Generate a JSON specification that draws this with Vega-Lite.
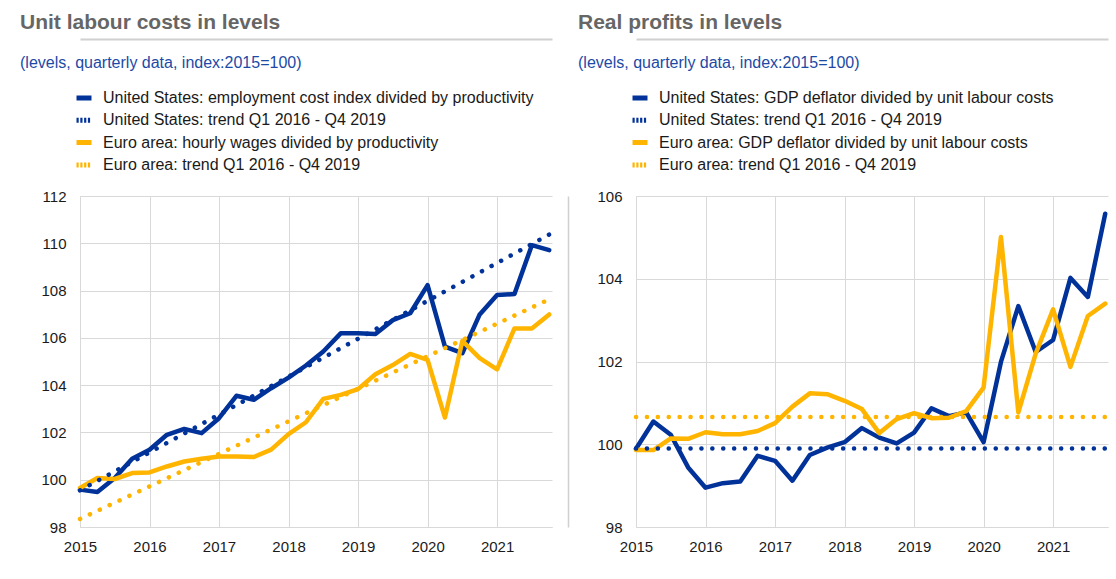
{
  "$schema": "https://vega.github.io/schema/vega-lite/v6.json",
  "background": "white",
  "padding": {"left": 20, "top": 12, "right": 0, "bottom": 0},
  "spacing": 84,
  "bounds": "flush",
  "resolve": {"scale": {"color": "independent", "x": "independent", "y": "independent"}, "legend": {"color": "independent"}},
  "config": {
    "font": "Liberation Sans",
    "view": {"stroke": null},
    "axis": {"labelFont": "Liberation Sans", "labelFontSize": 15, "labelColor": "#1a1a1a", "gridColor": "#d9d9d9", "gridWidth": 1, "domainColor": "#d9d9d9", "domainWidth": 1, "ticks": false, "tickSize": 0, "title": null, "labelFlush": false},
    "legend": {"orient": "none", "title": null, "symbolType": "stroke", "symbolSize": 225, "symbolStrokeWidth": 5, "labelFont": "Liberation Sans", "labelFontSize": 16, "labelColor": "#1a1a1a", "labelOffset": 9, "rowPadding": 2.3, "padding": 0, "labelLimit": 600},
    "title": {"font": "Liberation Sans", "fontSize": 21, "fontWeight": "bold", "color": "#666666", "anchor": "start", "frame": "group", "subtitleFont": "Liberation Sans", "subtitleFontSize": 16, "subtitleColor": "#1c4aa6", "subtitlePadding": 22, "offset": -32}
  },
  "hconcat": [
    {
      "width": 472,
      "height": 331,
      "title": {"text": "Unit labour costs in levels", "subtitle": "(levels, quarterly data, index:2015=100)", "dx": -60},
      "data": {"values": [
        {"s": "United States: employment cost index divided by productivity", "t": 2015.0, "v": 99.58},
        {"s": "United States: employment cost index divided by productivity", "t": 2015.25, "v": 99.48},
        {"s": "United States: employment cost index divided by productivity", "t": 2015.5, "v": 100.07},
        {"s": "United States: employment cost index divided by productivity", "t": 2015.75, "v": 100.89},
        {"s": "United States: employment cost index divided by productivity", "t": 2016.0, "v": 101.27},
        {"s": "United States: employment cost index divided by productivity", "t": 2016.25, "v": 101.9},
        {"s": "United States: employment cost index divided by productivity", "t": 2016.5, "v": 102.15},
        {"s": "United States: employment cost index divided by productivity", "t": 2016.75, "v": 101.97},
        {"s": "United States: employment cost index divided by productivity", "t": 2017.0, "v": 102.6},
        {"s": "United States: employment cost index divided by productivity", "t": 2017.25, "v": 103.55},
        {"s": "United States: employment cost index divided by productivity", "t": 2017.5, "v": 103.38},
        {"s": "United States: employment cost index divided by productivity", "t": 2017.75, "v": 103.87},
        {"s": "United States: employment cost index divided by productivity", "t": 2018.0, "v": 104.32},
        {"s": "United States: employment cost index divided by productivity", "t": 2018.25, "v": 104.83},
        {"s": "United States: employment cost index divided by productivity", "t": 2018.5, "v": 105.42},
        {"s": "United States: employment cost index divided by productivity", "t": 2018.75, "v": 106.19},
        {"s": "United States: employment cost index divided by productivity", "t": 2019.0, "v": 106.19},
        {"s": "United States: employment cost index divided by productivity", "t": 2019.25, "v": 106.16},
        {"s": "United States: employment cost index divided by productivity", "t": 2019.5, "v": 106.75},
        {"s": "United States: employment cost index divided by productivity", "t": 2019.75, "v": 107.04},
        {"s": "United States: employment cost index divided by productivity", "t": 2020.0, "v": 108.23},
        {"s": "United States: employment cost index divided by productivity", "t": 2020.25, "v": 105.63},
        {"s": "United States: employment cost index divided by productivity", "t": 2020.5, "v": 105.35},
        {"s": "United States: employment cost index divided by productivity", "t": 2020.75, "v": 106.99},
        {"s": "United States: employment cost index divided by productivity", "t": 2021.0, "v": 107.81},
        {"s": "United States: employment cost index divided by productivity", "t": 2021.25, "v": 107.85},
        {"s": "United States: employment cost index divided by productivity", "t": 2021.5, "v": 109.92},
        {"s": "United States: employment cost index divided by productivity", "t": 2021.75, "v": 109.71},
        {"s": "United States: trend Q1 2016 - Q4 2019", "t": 2015.0, "v": 99.55},
        {"s": "United States: trend Q1 2016 - Q4 2019", "t": 2021.75, "v": 110.37},
        {"s": "Euro area: hourly wages divided by productivity", "t": 2015.0, "v": 99.65},
        {"s": "Euro area: hourly wages divided by productivity", "t": 2015.25, "v": 100.07},
        {"s": "Euro area: hourly wages divided by productivity", "t": 2015.5, "v": 100.03},
        {"s": "Euro area: hourly wages divided by productivity", "t": 2015.75, "v": 100.28},
        {"s": "Euro area: hourly wages divided by productivity", "t": 2016.0, "v": 100.31},
        {"s": "Euro area: hourly wages divided by productivity", "t": 2016.25, "v": 100.56},
        {"s": "Euro area: hourly wages divided by productivity", "t": 2016.5, "v": 100.77},
        {"s": "Euro area: hourly wages divided by productivity", "t": 2016.75, "v": 100.89},
        {"s": "Euro area: hourly wages divided by productivity", "t": 2017.0, "v": 100.98},
        {"s": "Euro area: hourly wages divided by productivity", "t": 2017.25, "v": 100.98},
        {"s": "Euro area: hourly wages divided by productivity", "t": 2017.5, "v": 100.96},
        {"s": "Euro area: hourly wages divided by productivity", "t": 2017.75, "v": 101.27},
        {"s": "Euro area: hourly wages divided by productivity", "t": 2018.0, "v": 101.93},
        {"s": "Euro area: hourly wages divided by productivity", "t": 2018.25, "v": 102.43},
        {"s": "Euro area: hourly wages divided by productivity", "t": 2018.5, "v": 103.42},
        {"s": "Euro area: hourly wages divided by productivity", "t": 2018.75, "v": 103.59},
        {"s": "Euro area: hourly wages divided by productivity", "t": 2019.0, "v": 103.83},
        {"s": "Euro area: hourly wages divided by productivity", "t": 2019.25, "v": 104.46},
        {"s": "Euro area: hourly wages divided by productivity", "t": 2019.5, "v": 104.85},
        {"s": "Euro area: hourly wages divided by productivity", "t": 2019.75, "v": 105.32},
        {"s": "Euro area: hourly wages divided by productivity", "t": 2020.0, "v": 105.07},
        {"s": "Euro area: hourly wages divided by productivity", "t": 2020.25, "v": 102.63},
        {"s": "Euro area: hourly wages divided by productivity", "t": 2020.5, "v": 105.87},
        {"s": "Euro area: hourly wages divided by productivity", "t": 2020.75, "v": 105.14},
        {"s": "Euro area: hourly wages divided by productivity", "t": 2021.0, "v": 104.67},
        {"s": "Euro area: hourly wages divided by productivity", "t": 2021.25, "v": 106.4},
        {"s": "Euro area: hourly wages divided by productivity", "t": 2021.5, "v": 106.4},
        {"s": "Euro area: hourly wages divided by productivity", "t": 2021.75, "v": 106.99},
        {"s": "Euro area: trend Q1 2016 - Q4 2019", "t": 2015.0, "v": 98.34},
        {"s": "Euro area: trend Q1 2016 - Q4 2019", "t": 2021.75, "v": 107.63}
      ]},
      "resolve": {"axis": {"x": "independent", "y": "independent"}},
      "layer": [
        {
          "mark": {"type": "point", "opacity": 0},
          "encoding": {
            "x": {"field": "t", "type": "quantitative", "scale": {"domain": [2015, 2021.79], "nice": false, "zero": false}, "axis": {"orient": "top", "offset": 157, "labels": false, "grid": false, "domainColor": "#d0d0d0", "domainWidth": 2, "values": []}},
            "y": {"field": "v", "type": "quantitative", "scale": {"domain": [98, 112], "nice": false, "zero": false}, "axis": {"orient": "right", "offset": 16, "labels": false, "grid": false, "domainColor": "#d0d0d0", "domainWidth": 1.5, "values": []}}
          }
        },
        {
          "transform": [{"filter": "indexof(datum.s, 'trend') < 0"}],
          "mark": {"type": "line", "strokeWidth": 4.5, "strokeCap": "round", "strokeJoin": "round"},
          "encoding": {
            "x": {"field": "t", "type": "quantitative", "axis": {"orient": "bottom", "values": [2015, 2016, 2017, 2018, 2019, 2020, 2021], "format": "d", "grid": true, "labelPadding": 12}},
            "y": {"field": "v", "type": "quantitative", "axis": {"orient": "left", "values": [98, 100, 102, 104, 106, 108, 110, 112], "grid": true, "labelPadding": 14}},
            "color": {"field": "s", "type": "nominal", "sort": null,
              "scale": {"domain": ["United States: employment cost index divided by productivity", "United States: trend Q1 2016 - Q4 2019", "Euro area: hourly wages divided by productivity", "Euro area: trend Q1 2016 - Q4 2019"], "range": ["#003299", "#003299", "#ffb400", "#ffb400"]},
              "legend": {"legendX": -6, "legendY": -108, "encode": {"symbols": {"update": {"strokeDash": {"signal": "indexof(datum.label, 'trend') >= 0 ? [2.2, 1.6] : [1, 0]"}}}}}}
          }
        },
        {
          "transform": [{"filter": "indexof(datum.s, 'trend') >= 0"}],
          "mark": {"type": "line", "strokeWidth": 4.5, "strokeCap": "round", "strokeDash": [0.1, 10.8]},
          "encoding": {
            "x": {"field": "t", "type": "quantitative", "axis": null},
            "y": {"field": "v", "type": "quantitative", "axis": null},
            "color": {"field": "s", "type": "nominal", "sort": null,
              "scale": {"domain": ["United States: employment cost index divided by productivity", "United States: trend Q1 2016 - Q4 2019", "Euro area: hourly wages divided by productivity", "Euro area: trend Q1 2016 - Q4 2019"], "range": ["#003299", "#003299", "#ffb400", "#ffb400"]},
              "legend": {"legendX": -6, "legendY": -108, "encode": {"symbols": {"update": {"strokeDash": {"signal": "indexof(datum.label, 'trend') >= 0 ? [2.2, 1.6] : [1, 0]"}}}}}}
          }
        }
      ]
    },
    {
      "width": 472,
      "height": 331,
      "title": {"text": "Real profits in levels", "subtitle": "(levels, quarterly data, index:2015=100)", "dx": -58},
      "data": {"values": [
        {"s": "United States: GDP deflator divided by unit labour costs", "t": 2015.0, "v": 99.89},
        {"s": "United States: GDP deflator divided by unit labour costs", "t": 2015.25, "v": 100.55},
        {"s": "United States: GDP deflator divided by unit labour costs", "t": 2015.5, "v": 100.23},
        {"s": "United States: GDP deflator divided by unit labour costs", "t": 2015.75, "v": 99.44},
        {"s": "United States: GDP deflator divided by unit labour costs", "t": 2016.0, "v": 98.95},
        {"s": "United States: GDP deflator divided by unit labour costs", "t": 2016.25, "v": 99.06},
        {"s": "United States: GDP deflator divided by unit labour costs", "t": 2016.5, "v": 99.1},
        {"s": "United States: GDP deflator divided by unit labour costs", "t": 2016.75, "v": 99.72},
        {"s": "United States: GDP deflator divided by unit labour costs", "t": 2017.0, "v": 99.6},
        {"s": "United States: GDP deflator divided by unit labour costs", "t": 2017.25, "v": 99.12},
        {"s": "United States: GDP deflator divided by unit labour costs", "t": 2017.5, "v": 99.74},
        {"s": "United States: GDP deflator divided by unit labour costs", "t": 2017.75, "v": 99.92},
        {"s": "United States: GDP deflator divided by unit labour costs", "t": 2018.0, "v": 100.05},
        {"s": "United States: GDP deflator divided by unit labour costs", "t": 2018.25, "v": 100.39},
        {"s": "United States: GDP deflator divided by unit labour costs", "t": 2018.5, "v": 100.16},
        {"s": "United States: GDP deflator divided by unit labour costs", "t": 2018.75, "v": 100.02},
        {"s": "United States: GDP deflator divided by unit labour costs", "t": 2019.0, "v": 100.28},
        {"s": "United States: GDP deflator divided by unit labour costs", "t": 2019.25, "v": 100.87},
        {"s": "United States: GDP deflator divided by unit labour costs", "t": 2019.5, "v": 100.68},
        {"s": "United States: GDP deflator divided by unit labour costs", "t": 2019.75, "v": 100.77},
        {"s": "United States: GDP deflator divided by unit labour costs", "t": 2020.0, "v": 100.05},
        {"s": "United States: GDP deflator divided by unit labour costs", "t": 2020.25, "v": 101.99},
        {"s": "United States: GDP deflator divided by unit labour costs", "t": 2020.5, "v": 103.34},
        {"s": "United States: GDP deflator divided by unit labour costs", "t": 2020.75, "v": 102.23},
        {"s": "United States: GDP deflator divided by unit labour costs", "t": 2021.0, "v": 102.52},
        {"s": "United States: GDP deflator divided by unit labour costs", "t": 2021.25, "v": 104.02},
        {"s": "United States: GDP deflator divided by unit labour costs", "t": 2021.5, "v": 103.56},
        {"s": "United States: GDP deflator divided by unit labour costs", "t": 2021.75, "v": 105.57},
        {"s": "United States: trend Q1 2016 - Q4 2019", "t": 2015.0, "v": 99.9},
        {"s": "United States: trend Q1 2016 - Q4 2019", "t": 2021.75, "v": 99.9},
        {"s": "Euro area: GDP deflator divided by unit labour costs", "t": 2015.0, "v": 99.86},
        {"s": "Euro area: GDP deflator divided by unit labour costs", "t": 2015.25, "v": 99.86},
        {"s": "Euro area: GDP deflator divided by unit labour costs", "t": 2015.5, "v": 100.14},
        {"s": "Euro area: GDP deflator divided by unit labour costs", "t": 2015.75, "v": 100.13},
        {"s": "Euro area: GDP deflator divided by unit labour costs", "t": 2016.0, "v": 100.29},
        {"s": "Euro area: GDP deflator divided by unit labour costs", "t": 2016.25, "v": 100.24},
        {"s": "Euro area: GDP deflator divided by unit labour costs", "t": 2016.5, "v": 100.24},
        {"s": "Euro area: GDP deflator divided by unit labour costs", "t": 2016.75, "v": 100.32},
        {"s": "Euro area: GDP deflator divided by unit labour costs", "t": 2017.0, "v": 100.51},
        {"s": "Euro area: GDP deflator divided by unit labour costs", "t": 2017.25, "v": 100.91},
        {"s": "Euro area: GDP deflator divided by unit labour costs", "t": 2017.5, "v": 101.23},
        {"s": "Euro area: GDP deflator divided by unit labour costs", "t": 2017.75, "v": 101.21},
        {"s": "Euro area: GDP deflator divided by unit labour costs", "t": 2018.0, "v": 101.05},
        {"s": "Euro area: GDP deflator divided by unit labour costs", "t": 2018.25, "v": 100.85},
        {"s": "Euro area: GDP deflator divided by unit labour costs", "t": 2018.5, "v": 100.27},
        {"s": "Euro area: GDP deflator divided by unit labour costs", "t": 2018.75, "v": 100.61},
        {"s": "Euro area: GDP deflator divided by unit labour costs", "t": 2019.0, "v": 100.75},
        {"s": "Euro area: GDP deflator divided by unit labour costs", "t": 2019.25, "v": 100.63},
        {"s": "Euro area: GDP deflator divided by unit labour costs", "t": 2019.5, "v": 100.64},
        {"s": "Euro area: GDP deflator divided by unit labour costs", "t": 2019.75, "v": 100.8},
        {"s": "Euro area: GDP deflator divided by unit labour costs", "t": 2020.0, "v": 101.37},
        {"s": "Euro area: GDP deflator divided by unit labour costs", "t": 2020.25, "v": 105.01},
        {"s": "Euro area: GDP deflator divided by unit labour costs", "t": 2020.5, "v": 100.77},
        {"s": "Euro area: GDP deflator divided by unit labour costs", "t": 2020.75, "v": 102.19},
        {"s": "Euro area: GDP deflator divided by unit labour costs", "t": 2021.0, "v": 103.26},
        {"s": "Euro area: GDP deflator divided by unit labour costs", "t": 2021.25, "v": 101.87},
        {"s": "Euro area: GDP deflator divided by unit labour costs", "t": 2021.5, "v": 103.1},
        {"s": "Euro area: GDP deflator divided by unit labour costs", "t": 2021.75, "v": 103.4},
        {"s": "Euro area: trend Q1 2016 - Q4 2019", "t": 2015.0, "v": 100.66},
        {"s": "Euro area: trend Q1 2016 - Q4 2019", "t": 2021.75, "v": 100.66}
      ]},
      "resolve": {"axis": {"x": "independent"}},
      "layer": [
        {
          "mark": {"type": "point", "opacity": 0},
          "encoding": {
            "x": {"field": "t", "type": "quantitative", "scale": {"domain": [2015, 2021.79], "nice": false, "zero": false}, "axis": {"orient": "top", "offset": 157, "labels": false, "grid": false, "domainColor": "#d0d0d0", "domainWidth": 2, "values": []}},
            "y": {"field": "v", "type": "quantitative", "scale": {"domain": [98, 106], "nice": false, "zero": false}, "axis": {"orient": "left", "values": [98, 100, 102, 104, 106], "grid": true, "labelPadding": 14}}
          }
        },
        {
          "transform": [{"filter": "indexof(datum.s, 'trend') < 0"}],
          "mark": {"type": "line", "strokeWidth": 4.5, "strokeCap": "round", "strokeJoin": "round"},
          "encoding": {
            "x": {"field": "t", "type": "quantitative", "axis": {"orient": "bottom", "values": [2015, 2016, 2017, 2018, 2019, 2020, 2021], "format": "d", "grid": true, "labelPadding": 12}},
            "y": {"field": "v", "type": "quantitative"},
            "color": {"field": "s", "type": "nominal", "sort": null,
              "scale": {"domain": ["United States: GDP deflator divided by unit labour costs", "United States: trend Q1 2016 - Q4 2019", "Euro area: GDP deflator divided by unit labour costs", "Euro area: trend Q1 2016 - Q4 2019"], "range": ["#003299", "#003299", "#ffb400", "#ffb400"]},
              "legend": {"legendX": -6, "legendY": -108, "encode": {"symbols": {"update": {"strokeDash": {"signal": "indexof(datum.label, 'trend') >= 0 ? [2.2, 1.6] : [1, 0]"}}}}}}
          }
        },
        {
          "transform": [{"filter": "indexof(datum.s, 'trend') >= 0"}],
          "mark": {"type": "line", "strokeWidth": 4.5, "strokeCap": "round", "strokeDash": [0.1, 10.8]},
          "encoding": {
            "x": {"field": "t", "type": "quantitative", "axis": null},
            "y": {"field": "v", "type": "quantitative"},
            "color": {"field": "s", "type": "nominal", "sort": null,
              "scale": {"domain": ["United States: GDP deflator divided by unit labour costs", "United States: trend Q1 2016 - Q4 2019", "Euro area: GDP deflator divided by unit labour costs", "Euro area: trend Q1 2016 - Q4 2019"], "range": ["#003299", "#003299", "#ffb400", "#ffb400"]},
              "legend": {"legendX": -6, "legendY": -108, "encode": {"symbols": {"update": {"strokeDash": {"signal": "indexof(datum.label, 'trend') >= 0 ? [2.2, 1.6] : [1, 0]"}}}}}}
          }
        }
      ]
    }
  ]
}
